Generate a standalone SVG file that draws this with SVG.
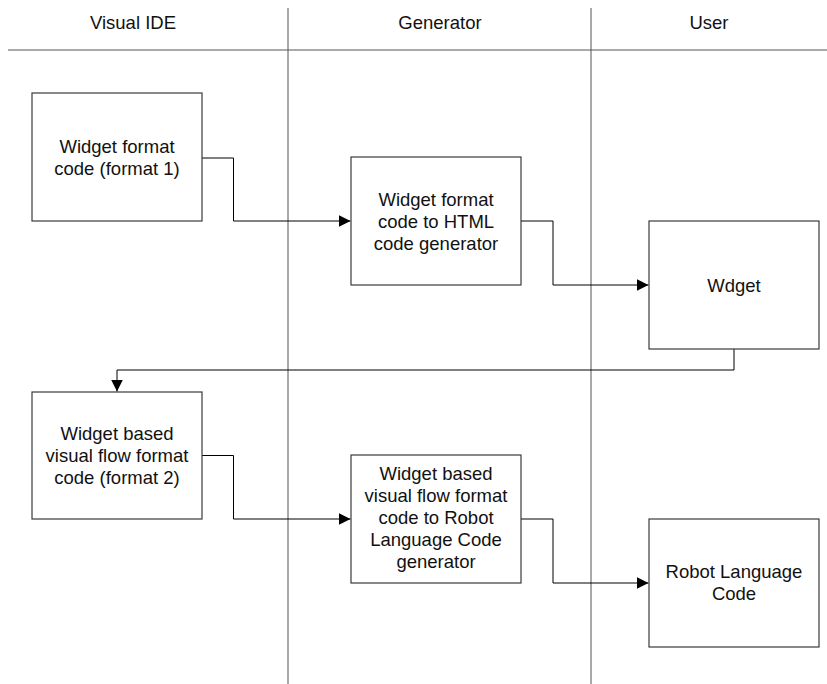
<svg xmlns="http://www.w3.org/2000/svg" width="827" height="684" viewBox="0 0 827 684">
<style>
.lane{stroke:#555;stroke-width:1;fill:none}
.box{fill:#fff;stroke:#3a3a3a;stroke-width:1.2}
.conn{fill:none;stroke:#000;stroke-width:1}
text{font-family:"Liberation Sans",Arial,sans-serif;font-size:18.5px;fill:#111;text-anchor:middle}
</style>
<defs>
<marker id="arr" markerWidth="12" markerHeight="12" refX="12" refY="6" orient="auto" markerUnits="userSpaceOnUse">
<path d="M0,0 L12,6 L0,12 Z" fill="#000"/>
</marker>
</defs>
<g id="lanes">
<line class="lane" x1="8" y1="50" x2="827" y2="50"/>
<line class="lane" x1="288" y1="8" x2="288" y2="684"/>
<line class="lane" x1="591" y1="8" x2="591" y2="684"/>
<text x="133" y="28.5">Visual IDE</text>
<text x="440" y="28.5">Generator</text>
<text x="709" y="28.5">User</text>
</g>
<g id="connectors">
<path class="conn" d="M202,158 H233.5 V221 H350.5" marker-end="url(#arr)"/>
<path class="conn" d="M521,221 H553 V285 H648.5" marker-end="url(#arr)"/>
<path class="conn" d="M734,349 V370 H117 V391.5" marker-end="url(#arr)"/>
<path class="conn" d="M202,455.5 H233.5 V519 H350.5" marker-end="url(#arr)"/>
<path class="conn" d="M521,519 H553 V583 H648.5" marker-end="url(#arr)"/>
</g>
<g id="node1">
<rect class="box" x="32" y="93" width="170" height="128"/>
<text x="117" y="152.5">Widget format</text>
<text x="117" y="174.5">code (format 1)</text>
</g>
<g id="node2">
<rect class="box" x="351" y="157" width="170" height="128"/>
<text x="436" y="205.5">Widget format</text>
<text x="436" y="227.5">code to HTML</text>
<text x="436" y="249.5">code generator</text>
</g>
<g id="node3">
<rect class="box" x="649" y="221" width="170" height="128"/>
<text x="734" y="291.5">Wdget</text>
</g>
<g id="node4">
<rect class="box" x="32" y="392" width="170" height="127"/>
<text x="117" y="439.5">Widget based</text>
<text x="117" y="461.5">visual flow format</text>
<text x="117" y="483.5">code (format 2)</text>
</g>
<g id="node5">
<rect class="box" x="351" y="455" width="170" height="128"/>
<text x="436" y="479.5">Widget based</text>
<text x="436" y="501.5">visual flow format</text>
<text x="436" y="523.5">code to Robot</text>
<text x="436" y="545.5">Language Code</text>
<text x="436" y="567.5">generator</text>
</g>
<g id="node6">
<rect class="box" x="649" y="519" width="170" height="128"/>
<text x="734" y="578">Robot Language</text>
<text x="734" y="600">Code</text>
</g>
</svg>
